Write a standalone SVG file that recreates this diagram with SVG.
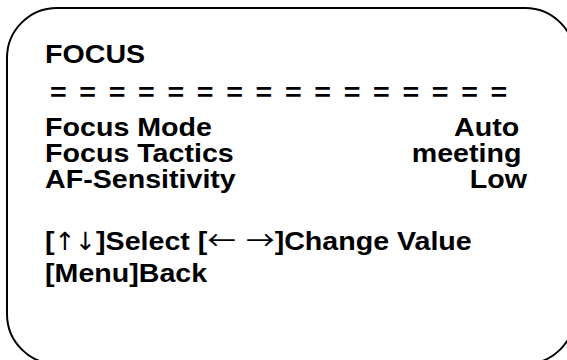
<svg xmlns="http://www.w3.org/2000/svg" width="567" height="360" viewBox="0 0 567 360">
<style>
.t{font-family:"Liberation Sans",Arial,sans-serif;font-weight:bold;font-size:26px;fill:#000}
.e{text-anchor:end}
.ar{font-family:"DejaVu Sans Condensed","DejaVu Sans",sans-serif;font-weight:normal;font-size:25px}
.ah{font-family:"Noto Sans CJK SC","DejaVu Sans",sans-serif;font-weight:normal}
</style>
<rect x="7" y="8" width="568" height="356" rx="50" ry="50" fill="#fff" stroke="#000" stroke-width="2"/>
<g id="menu" transform="scale(1.1 1)">
<text class="t" x="41" y="63">FOCUS</text>
<text class="t" x="45.4" y="101" letter-spacing="2.15">= = = = = = = = = = = = = = = =</text>
<text class="t" x="41" y="136">Focus Mode</text>
<text class="t" x="41" y="162">Focus Tactics</text>
<text class="t" x="41" y="188">AF-Sensitivity</text>
<text class="t e" x="472" y="136">Auto</text>
<text class="t e" x="474" y="162">meeting</text>
<text class="t e" x="479" y="188">Low</text>
<text class="t" x="41" y="250">[<tspan class="ar">↑↓</tspan>]Select [<tspan class="ah">←</tspan> <tspan class="ah" dx="2">→</tspan>]Change Value</text>
<text class="t" x="41" y="282">[Menu]Back</text>
</g>
</svg>
